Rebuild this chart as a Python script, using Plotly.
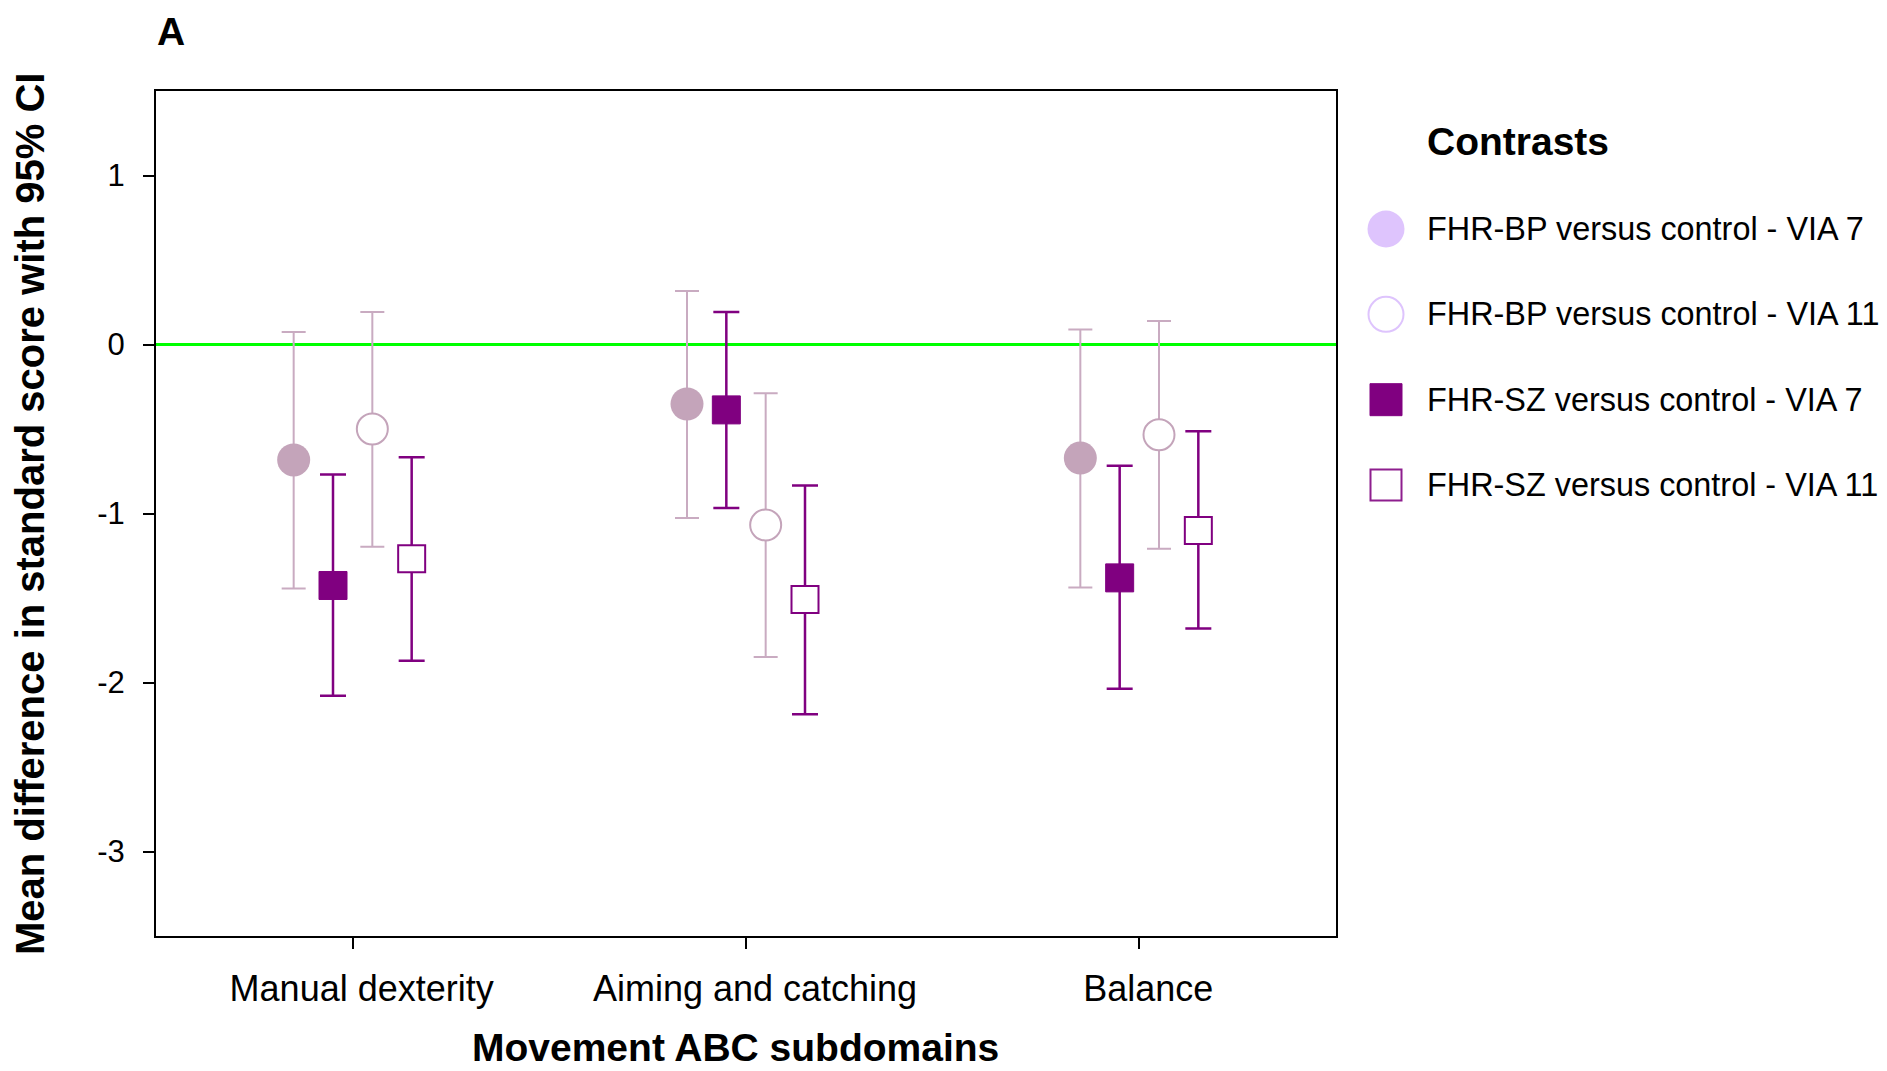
import plotly.graph_objects as go

# ---------------- data ----------------
categories = ["Manual dexterity", "Aiming and catching", "Balance"]
y_tick_vals = [1, 0, -1, -2, -3]
y_tick_text = ["1", "0", "-1", "-2", "-3"]

series_names = [
    "FHR-BP versus control - VIA 7",
    "FHR-BP versus control - VIA 11",
    "FHR-SZ versus control - VIA 7",
    "FHR-SZ versus control - VIA 11",
]

bp7_mean = [-0.683, -0.352, -0.672]
bp7_lower = [-1.444, -1.027, -1.438]
bp7_upper = [0.074, 0.317, 0.089]

bp11_mean = [-0.500, -1.068, -0.534]
bp11_lower = [-1.197, -1.849, -1.209]
bp11_upper = [0.192, -0.289, 0.139]

sz7_mean = [-1.426, -0.387, -1.381]
sz7_lower = [-2.079, -0.967, -2.037]
sz7_upper = [-0.769, 0.192, -0.718]

sz11_mean = [-1.268, -1.509, -1.100]
sz11_lower = [-1.871, -2.188, -1.680]
sz11_upper = [-0.667, -0.835, -0.514]

# ---------------- styles / layout constants ----------------
OFF = 8                      # page body margin of the browser
W, H = 1887 - OFF, 1071 - OFF
FONT = "Liberation Sans, Arial, Helvetica, sans-serif"
MAUVE = "#C4A4BA"
MAUVE_BAR = "#C9ABC1"
PURPLE = "#800080"
LAVENDER = "#DEC4FD"
GREEN = "#00FF00"


def px(x):
    return (x - OFF) / W


def py(y):
    return 1 - (y - OFF) / H


# plot area in page pixels
PL, PR, PT, PB = 156, 1336, 91, 936

series = [
    dict(name=series_names[0], mean=bp7_mean, lo=bp7_lower, hi=bp7_upper, offset=-0.15,
         symbol="circle", size=33, fill=MAUVE, line=MAUVE, lw=0, bar=MAUVE_BAR, bw=2, cap=12,
         lg_fill=LAVENDER, lg_line=LAVENDER, lg_size=37, lg_lw=0),
    dict(name=series_names[2], mean=sz7_mean, lo=sz7_lower, hi=sz7_upper, offset=-0.05,
         symbol="square", size=28, fill=PURPLE, line=PURPLE, lw=1, bar=PURPLE, bw=2.5, cap=13,
         lg_fill=PURPLE, lg_line=PURPLE, lg_size=32, lg_lw=1),
    dict(name=series_names[1], mean=bp11_mean, lo=bp11_lower, hi=bp11_upper, offset=0.05,
         symbol="circle", size=31, fill="white", line=MAUVE, lw=2, bar=MAUVE_BAR, bw=2, cap=12,
         lg_fill="white", lg_line=LAVENDER, lg_size=35, lg_lw=2),
    dict(name=series_names[3], mean=sz11_mean, lo=sz11_lower, hi=sz11_upper, offset=0.15,
         symbol="square", size=27, fill="white", line=PURPLE, lw=2, bar=PURPLE, bw=2.5, cap=13,
         lg_fill="white", lg_line="#8E1E8E", lg_size=31, lg_lw=2),
]
legend_order = [series_names[0], series_names[1], series_names[2], series_names[3]]

fig = go.Figure()

for s in series:
    xs = [i + 1 + s["offset"] for i in range(len(categories))]
    plus = [h - m for h, m in zip(s["hi"], s["mean"])]
    minus = [m - l for m, l in zip(s["mean"], s["lo"])]
    fig.add_trace(go.Scatter(
        x=xs, y=s["mean"], mode="markers", name=s["name"], showlegend=False,
        marker=dict(symbol=s["symbol"], size=s["size"], color=s["fill"],
                    line=dict(color=s["line"], width=s["lw"])),
        error_y=dict(type="data", symmetric=False, array=plus, arrayminus=minus,
                     color=s["bar"], thickness=s["bw"], width=s["cap"]),
        xaxis="x", yaxis="y",
    ))

# custom legend (large symbols) on a hidden helper axis
by_name = {s["name"]: s for s in series}
for i, nm in enumerate(legend_order):
    s = by_name[nm]
    fig.add_trace(go.Scatter(
        x=[0], y=[i], mode="markers", showlegend=False, cliponaxis=False, hoverinfo="skip",
        marker=dict(symbol=s["symbol"], size=s["lg_size"], color=s["lg_fill"],
                    line=dict(color=s["lg_line"], width=s["lg_lw"])),
        xaxis="x2", yaxis="y2",
    ))
    fig.add_annotation(x=px(1425), xref="paper", xanchor="left", y=i, yref="y2", yanchor="middle",
                       text=nm, showarrow=False, font=dict(family=FONT, size=32.4, color="black"))

fig.add_annotation(x=px(1425), xref="paper", xanchor="left", y=py(142), yref="paper",
                   yanchor="middle", text="<b>Contrasts</b>", showarrow=False,
                   font=dict(family=FONT, size=39, color="black"))

# panel label
fig.add_annotation(x=px(155), xref="paper", xanchor="left", y=1, yref="paper",
                   yanchor="top", text="<b>A</b>", showarrow=False,
                   font=dict(family=FONT, size=39, color="black"))

# axis titles
fig.add_annotation(x=px(735), xref="paper", xanchor="center", y=0, yref="paper",
                   yanchor="bottom", text="<b>Movement ABC subdomains</b>", showarrow=False,
                   font=dict(family=FONT, size=39, color="black"))
fig.add_annotation(x=px(30), xref="paper", xanchor="center", y=py(514), yref="paper",
                   yanchor="middle", text="<b>Mean difference in standard score with 95% CI</b>",
                   textangle=-90, showarrow=False,
                   font=dict(family=FONT, size=40, color="black"))

leg_top, leg_bot = 186.3, 527.7

fig.update_layout(
    width=W, height=H,
    margin=dict(l=0, r=0, t=0, b=0),
    paper_bgcolor="white", plot_bgcolor="white",
    font=dict(family=FONT, color="black"),
    showlegend=False,
    xaxis=dict(
        domain=[px(PL), px(PR)], range=[0.5, 3.5],
        tickmode="array", tickvals=[1, 2, 3], ticktext=categories,
        tickfont=dict(family=FONT, size=36, color="black"),
        ticks="outside", ticklen=11, tickwidth=2, tickcolor="black",
        ticklabelstandoff=9, ticklabelshift=9,
        showline=True, linecolor="black", linewidth=2, mirror=True,
        showgrid=False, zeroline=False, fixedrange=True,
    ),
    yaxis=dict(
        domain=[py(PB), py(PT)], range=[-3.5, 1.5],
        tickmode="array", tickvals=y_tick_vals, ticktext=y_tick_text,
        tickfont=dict(family=FONT, size=31, color="black"),
        ticks="outside", ticklen=11, tickwidth=2, tickcolor="black",
        ticklabelstandoff=12,
        showline=True, linecolor="black", linewidth=2, mirror=True,
        showgrid=False, zeroline=True, zerolinecolor=GREEN, zerolinewidth=3,
        fixedrange=True,
    ),
    xaxis2=dict(domain=[px(1370), px(1402)], range=[-1, 1], visible=False, fixedrange=True),
    yaxis2=dict(domain=[py(leg_bot), py(leg_top)], range=[3.5, -0.5], visible=False,
                fixedrange=True),
)

fig.write_html("out.html", config={"displayModeBar": False})
